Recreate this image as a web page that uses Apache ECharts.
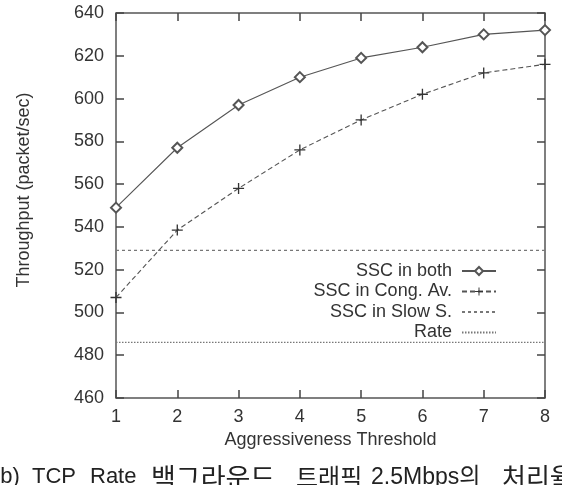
<!DOCTYPE html>
<html>
<head>
<meta charset="utf-8">
<script src="https://cdn.jsdelivr.net/npm/echarts@6/dist/echarts.min.js"></script>
<style>
  html, body { margin: 0; padding: 0; background: #fff; }
  #contain { width: 562px; height: 485px; }
</style>
</head>
<body>
<div id="contain"></div>
<script>
// Aggressiveness Threshold
var thresholds = [1, 2, 3, 4, 5, 6, 7, 8];
var sscBoth = [549, 577, 597, 610, 619, 624, 630, 632];
var sscCongAv = [507, 538.5, 558, 576, 590, 602, 612, 616];
var sscSlowS = 529; // 수평선
var rateLevel = 486; // 수평선
var yTicks = [460, 480, 500, 520, 540, 560, 580, 600, 620, 640];

function pairs(ys) {
    var out = [];
    for (var i = 0; i < thresholds.length; i++) {
        out.push([thresholds[i], ys[i]]);
    }
    return out;
}

function flat(v) {
    return [[thresholds[0], v], [thresholds[thresholds.length - 1], v]];
}

var font = "'Liberation Sans', Arial, sans-serif";
var krFont = "'Liberation Sans', 'Noto Sans CJK KR', sans-serif";
var plus = 'path://M4.4,0H5.6V4.4H10V5.6H5.6V10H4.4V5.6H0V4.4H4.4Z';

var option = {
    backgroundColor: '#fff',
    animation: false,
    grid: {
        left: 116,
        right: 17,
        top: 13,
        bottom: 87,
        show: true,
        borderColor: '#555',
        borderWidth: 1.5
    },
    legend: {
        orient: 'vertical',
        align: 'right',
        right: 65,
        top: 262,
        padding: 0,
        itemWidth: 34,
        itemHeight: 10,
        itemGap: 2.5,
        textStyle: { fontFamily: font, fontSize: 18, color: '#333', padding: [0, 5, 0, 0] },
        data: [
            { name: 'SSC in both' },
            { name: 'SSC in Cong. Av.' },
            { name: 'SSC in Slow S.', itemStyle: { opacity: 0 } },
            { name: 'Rate', itemStyle: { opacity: 0 } }
        ]
    },
    xAxis: [{
        type: 'value',
        min: 1,
        max: 8,
        interval: 1,
        name: 'Aggressiveness Threshold',
        nameLocation: 'middle',
        nameGap: 31,
        nameTextStyle: { fontFamily: font, fontSize: 18, color: '#333' },
        axisLine: { show: false },
        axisTick: { inside: true, length: 8, lineStyle: { color: '#444', width: 1.5 } },
        axisLabel: { fontFamily: font, fontSize: 18, color: '#333', margin: 10 },
        splitLine: { show: false }
    }, {
        type: 'value',
        position: 'top',
        min: 1,
        max: 8,
        interval: 1,
        axisLine: { show: false },
        axisTick: { inside: true, length: 8, lineStyle: { color: '#444', width: 1.5 } },
        axisLabel: { show: false },
        splitLine: { show: false }
    }],
    yAxis: [{
        type: 'value',
        min: yTicks[0],
        max: yTicks[yTicks.length - 1],
        interval: 20,
        axisLine: { show: false },
        axisTick: { inside: true, length: 8, lineStyle: { color: '#444', width: 1.5 } },
        axisLabel: { fontFamily: font, fontSize: 18, color: '#333', margin: 12 },
        splitLine: { show: false }
    }, {
        type: 'value',
        position: 'right',
        min: yTicks[0],
        max: yTicks[yTicks.length - 1],
        interval: 20,
        axisLine: { show: false },
        axisTick: { inside: true, length: 8, lineStyle: { color: '#444', width: 1.5 } },
        axisLabel: { show: false },
        splitLine: { show: false }
    }],
    series: [{
        name: 'SSC in both',
        type: 'line',
        data: pairs(sscBoth),
        symbol: 'emptyDiamond',
        symbolSize: 10,
        itemStyle: { color: '#555', borderWidth: 1 },
        lineStyle: { color: '#555', width: 1.1, type: 'solid' }
    }, {
        name: 'SSC in Cong. Av.',
        type: 'line',
        data: pairs(sscCongAv),
        symbol: plus,
        symbolSize: 11,
        itemStyle: { color: '#333' },
        lineStyle: { color: '#555', width: 1.1, type: [5, 3] }
    }, {
        name: 'SSC in Slow S.',
        type: 'line',
        data: flat(sscSlowS),
        symbol: 'none',
        itemStyle: { color: '#666' },
        lineStyle: { color: '#777', width: 1.1, type: [3, 3] }
    }, {
        name: 'Rate',
        type: 'line',
        data: flat(rateLevel),
        symbol: 'none',
        itemStyle: { color: '#666' },
        lineStyle: { color: '#777', width: 1.1, type: [1.5, 1.5] }
    }],
    graphic: [{
        type: 'text',
        x: 24,
        y: 190,
        rotation: Math.PI / 2,
        style: {
            text: 'Throughput (packet/sec)',
            font: '18px ' + font,
            fill: '#333',
            align: 'center',
            verticalAlign: 'middle'
        }
    },
        // 캡션 (아래쪽이 잘려 있음)
        { type: 'text', x: -7, y: 466, style: { text: '(b)', font: '22px ' + font, fill: '#222' } },
        { type: 'text', x: 32, y: 466, style: { text: 'TCP', font: '22px ' + font, fill: '#222' } },
        { type: 'text', x: 90, y: 466, style: { text: 'Rate', font: '22px ' + font, fill: '#222' } },
        { type: 'text', x: 151, y: 467, style: { text: '백그라운드', font: '27px ' + krFont, fill: '#222' } },
        { type: 'text', x: 296, y: 467, style: { text: '트래픽', font: '24px ' + krFont, fill: '#222' } },
        { type: 'text', x: 371, y: 466, style: { text: '2.5Mbps의', font: '23px ' + krFont, fill: '#222' } },
        { type: 'text', x: 502, y: 467, style: { text: '처리율', font: '26px ' + krFont, fill: '#222' } }
    ]
};

var myChart = echarts.init(document.getElementById('contain'));
myChart.setOption(option);
</script>
</body>
</html>
